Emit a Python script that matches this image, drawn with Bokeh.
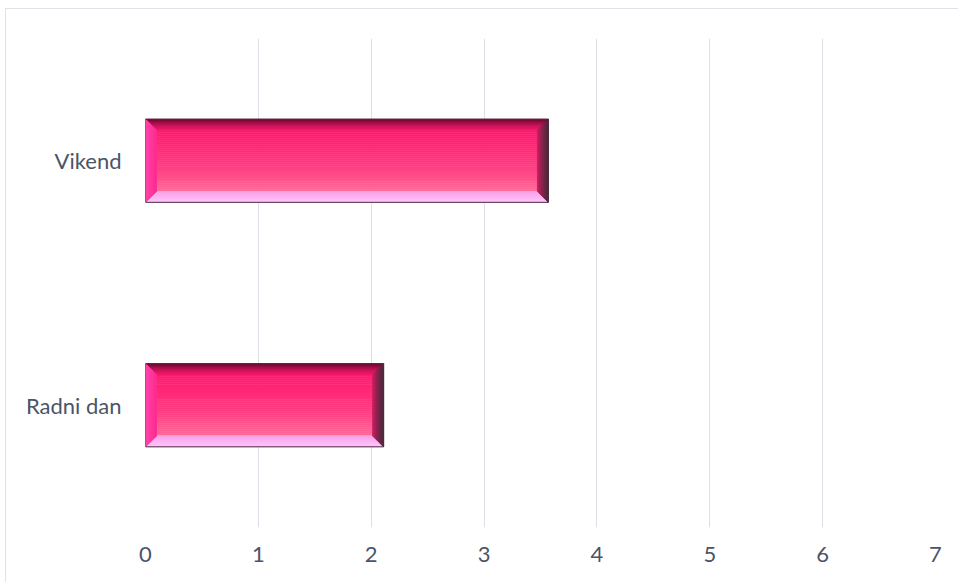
import numpy as np
from bokeh.plotting import figure
from bokeh.models import FixedTicker
from bokeh.embed import file_html
from bokeh.resources import INLINE

categories = ["Radni dan", "Vikend"]
values = [2.11, 3.57]
x_ticks = [0, 1, 2, 3, 4, 5, 6, 7]

FRAME_W, FRAME_H = 790, 489
XMAX = 7
p = figure(width=952, height=573, output_backend="svg", toolbar_location=None,
           x_range=(0, XMAX), y_range=(-0.5, len(categories) - 0.5),
           frame_width=FRAME_W, frame_height=FRAME_H,
           min_border_left=139, min_border_right=23, min_border_top=29, min_border_bottom=55)
p.styles = {"margin-left": "5px", "margin-top": "8px",
            "border-left": "1px solid #dfe2e8", "border-top": "1px solid #dfe2e8"}

p.outline_line_color = None
p.background_fill_color = "white"
p.border_fill_color = "white"
p.ygrid.visible = False
p.xgrid.ticker = FixedTicker(ticks=x_ticks)
p.xgrid.grid_line_color = "#dcdfe6"
p.xgrid.grid_line_width = 1

p.xaxis.ticker = FixedTicker(ticks=x_ticks)
p.yaxis.ticker = FixedTicker(ticks=list(range(len(categories))))
p.yaxis.major_label_overrides = {i: c for i, c in enumerate(categories)}
for ax in (p.xaxis, p.yaxis):
    ax.axis_line_color = None
    ax.major_tick_line_color = None
    ax.minor_tick_line_color = None
    ax.major_label_text_font = "Lato"
    ax.major_label_text_font_size = "22px"
    ax.major_label_text_color = "#4a5568"
p.yaxis.major_label_standoff = 18
p.xaxis.major_label_standoff = 13


def hex2rgb(h):
    h = h.lstrip("#")
    return np.array([int(h[i:i + 2], 16) for i in (0, 2, 4)], dtype=float)


def grad(c0, c1, t):
    a, b = hex2rgb(c0), hex2rgb(c1)
    c = a + (b - a) * t
    return "#%02x%02x%02x" % tuple(int(round(v)) for v in c)


bx = 11 / (FRAME_W / XMAX)
by = 11 / (FRAME_H / len(categories))
half = 0.17
N = 30

xs, ys, cols = [], [], []
for i, v in enumerate(values):
    x0, x1 = 0.0, v
    yb, yt = i - half, i + half
    # inner face, vertical gradient
    for k in range(N):
        ya = yt - by - (yt - yb - 2 * by) * k / N
        yc = yt - by - (yt - yb - 2 * by) * (k + 1) / N
        t = (k + 0.5) / N
        c = grad("#ff1a6c", "#ff3c82", t / 0.6) if t < 0.6 else grad("#ff3c82", "#ff6a98", (t - 0.6) / 0.4)
        xs.append([x0 + bx, x1 - bx, x1 - bx, x0 + bx])
        ys.append([ya, ya, yc, yc])
        cols.append(c)
    # top bevel: from inner edge (s=0) to outer edge (s=1)
    for k in range(N):
        sa, sb = k / N, (k + 1) / N
        c = grad("#f41a6c", "#700a32", ((k + 0.5) / N) ** 1.4)
        xs.append([x0 + bx * (1 - sa), x1 - bx * (1 - sa), x1 - bx * (1 - sb), x0 + bx * (1 - sb)])
        ys.append([yt - by * (1 - sa), yt - by * (1 - sa), yt - by * (1 - sb), yt - by * (1 - sb)])
        cols.append(c)
    # bottom bevel
    for k in range(N):
        sa, sb = k / N, (k + 1) / N
        c = grad("#f7a0e4", "#ffc6ff", (k + 0.5) / N)
        xs.append([x0 + bx * (1 - sa), x1 - bx * (1 - sa), x1 - bx * (1 - sb), x0 + bx * (1 - sb)])
        ys.append([yb + by * (1 - sa), yb + by * (1 - sa), yb + by * (1 - sb), yb + by * (1 - sb)])
        cols.append(c)
    # left bevel
    for k in range(N):
        sa, sb = k / N, (k + 1) / N
        c = grad("#ff2a8e", "#ff44ac", (k + 0.5) / N)
        xa, xc = x0 + bx * (1 - sa), x0 + bx * (1 - sb)
        xs.append([xa, xc, xc, xa])
        ys.append([yt - by * (1 - sa), yt - by * (1 - sb), yb + by * (1 - sb), yb + by * (1 - sa)])
        cols.append(c)
    # right bevel
    for k in range(N):
        sa, sb = k / N, (k + 1) / N
        c = grad("#d81e66", "#4a2a3c", ((k + 0.5) / N) ** 0.8)
        xa, xc = x1 - bx * (1 - sa), x1 - bx * (1 - sb)
        xs.append([xa, xc, xc, xa])
        ys.append([yt - by * (1 - sa), yt - by * (1 - sb), yb + by * (1 - sb), yb + by * (1 - sa)])
        cols.append(c)

p.patches(xs=xs, ys=ys, fill_color=cols, line_color=cols, line_width=0.6)
p.quad(left=[0] * len(values), right=values,
       bottom=[i - half for i in range(len(values))], top=[i + half for i in range(len(values))],
       fill_color=None, line_color="#4e2a3c", line_width=1)

open("out.html", "w").write(file_html(p, INLINE))
